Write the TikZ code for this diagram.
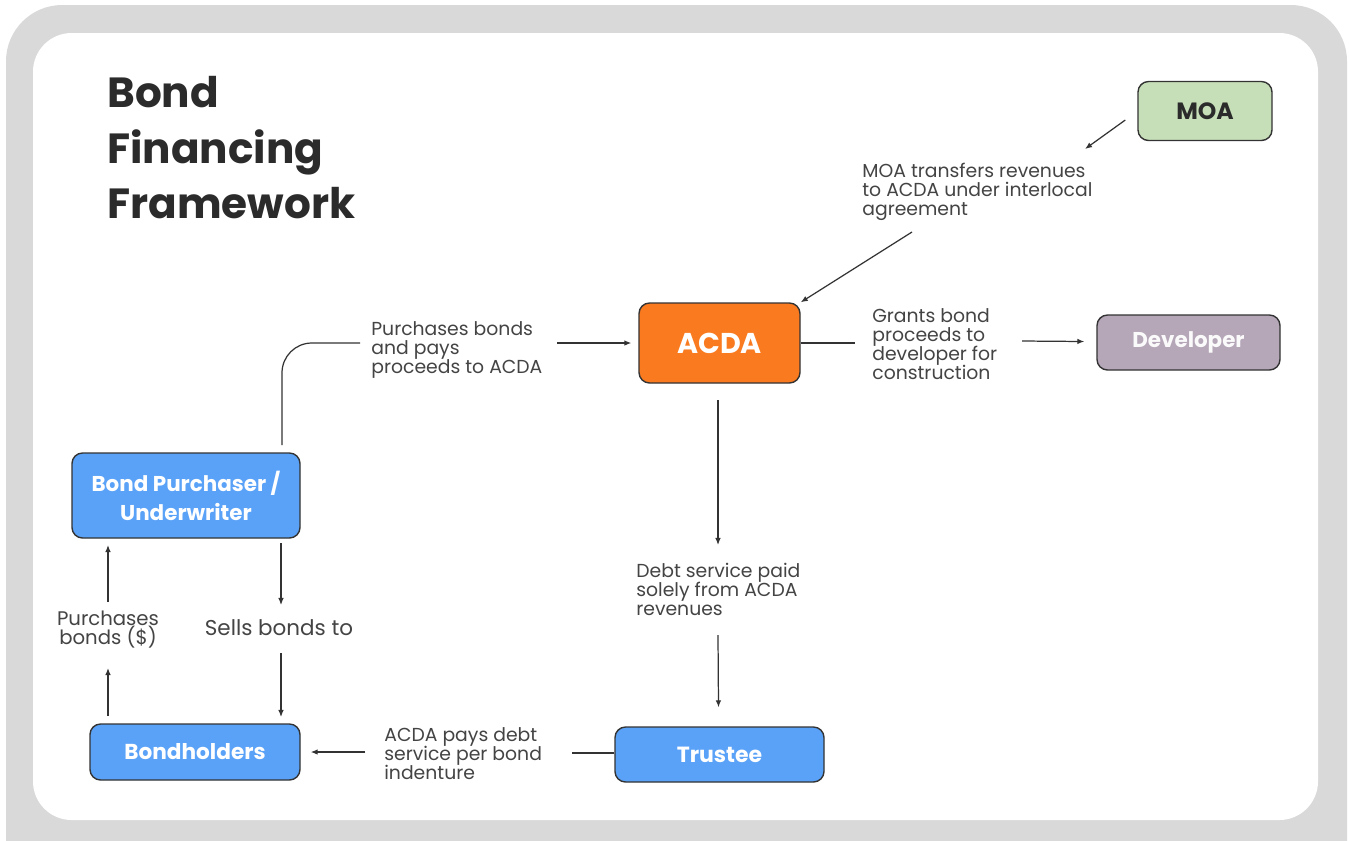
\documentclass[tikz,border=0pt]{standalone}
\usepackage{fontspec}
\setmainfont{Poppins}
\usetikzlibrary{arrows.meta}
\setlength{\lineskiplimit}{-5pt}
\definecolor{framegray}{HTML}{D9D9D9}
\definecolor{linegray}{HTML}{333333}
\definecolor{textgray}{HTML}{444444}
\definecolor{titlegray}{HTML}{2B2B2B}
\definecolor{moagreen}{HTML}{C6DFB8}
\definecolor{acdaorange}{HTML}{F97A1F}
\definecolor{devmauve}{HTML}{B5A7B8}
\definecolor{boxblue}{HTML}{5AA2F7}
\begin{document}
\begin{tikzpicture}[x=0.02cm, y=-0.02cm,
  box/.style={draw=linegray, line width=0.8pt, rounded corners=6pt, align=center, text=white},
  sz/.style 2 args={minimum width=#1*0.02cm, minimum height=#2*0.02cm},
  lbl/.style={font=\fontsize{10.7}{10.8}\selectfont, text=textgray, align=left, inner sep=0pt},
  link/.style={draw=linegray, line width=0.7pt},
  arr/.style={link, -{Latex[length=4pt,width=3.2pt]}}]
\useasboundingbox (0,0) rectangle (1349,840);
\clip (0,0) rectangle (1349,840);

% frame
\fill[framegray, rounded corners=32pt] (6,5) rectangle (1347,900);
\fill[white, rounded corners=22pt] (33,33) rectangle (1318,820);

\node[anchor=north west, align=left, inner sep=0pt, text=titlegray,
  font=\fontsize{24}{31.7}\selectfont\bfseries] (title) at (107,76) {Bond\\Financing\\Framework};

% boxes
\node[box, sz={134}{59}, fill=moagreen, text=titlegray, font=\fontsize{13.4}{15}\selectfont\bfseries] (moa) at (1205,111) {MOA};
\node[box, sz={161}{80}, fill=acdaorange, font=\fontsize{16.3}{19}\selectfont\bfseries] (acda) at (719.5,343) {ACDA};
\node[box, sz={183}{55}, fill=devmauve, text=white!94!devmauve, font=\fontsize{12.2}{15}\selectfont\bfseries] (dev) at (1188.5,342.5) {Developer};
\node[box, sz={228}{85}, fill=boxblue, font=\fontsize{12.2}{16.6}\selectfont\bfseries] (bp) at (186,495.5) {Bond Purchaser /\\Underwriter};
\node[box, sz={210}{56}, fill=boxblue, font=\fontsize{12.3}{14}\selectfont\bfseries] (bh) at (195,752) {Bondholders};
\node[box, sz={209}{55}, fill=boxblue, font=\fontsize{12.5}{15}\selectfont\bfseries] (tr) at (719.5,754.5) {Trustee};

% labels
\node[lbl, anchor=west] (lmoa) at (862,192) {MOA transfers revenues\\to ACDA under interlocal\\agreement};
\node[lbl, anchor=west] (lbuy) at (371,350) {Purchases bonds\\and pays\\proceeds to ACDA};
\node[lbl, anchor=west] (lgrant) at (872,344) {Grants bond\\proceeds to\\developer for\\construction};
\node[lbl, anchor=west] (ldebt) at (636,589) {Debt service paid\\solely from ACDA\\revenues};
\node[lbl, anchor=west] (lpay) at (384,754) {ACDA pays debt\\service per bond\\indenture};
\node[lbl, font=\fontsize{12.2}{14}\selectfont] (lsell) at (279,628) {Sells bonds to};
\node[lbl, align=center, font=\fontsize{11.2}{10.8}\selectfont] (lpur) at (108,630) {Purchases\\bonds (\$)};

% connector ends
\coordinate (moain) at (1085,149);
\coordinate (moaout) at (912,232);
\coordinate (bpup) at (282,445);
\coordinate (buyin) at (360,343);
\coordinate (buyout) at (557,343);
\coordinate (grantin) at (855,343);
\coordinate (grantout) at (1022,341);
\coordinate (debttop) at (718,400);
\coordinate (debtin) at (718,545);
\coordinate (debtout) at (718,635);
\coordinate (payin) at (572,753);
\coordinate (payout) at (365,752);
\coordinate (selltop) at (281,543);
\coordinate (sellin) at (281,605);
\coordinate (sellout) at (281,653);
\coordinate (sellend) at (281,717);
\coordinate (purbot) at (108,716);
\coordinate (purin) at (108,668);
\coordinate (purout) at (108,602);
\coordinate (purend) at (108,545);

% MOA to ACDA
\draw[arr] ([shift={(-12,9)}]moa.west) -- (moain);
\draw[arr] (moaout) -- (acda.north east);
% purchaser to ACDA
\draw[link, rounded corners=17pt] (bpup) |- (buyin);
\draw[arr] (buyout) -- ([shift={(-7,0)}]acda.west);
% ACDA to developer
\draw[link] (acda.east) -- (grantin);
\draw[arr] (grantout) -- ([shift={(-12,-1)}]dev.west);
% ACDA to trustee
\draw[arr] (debttop) -- (debtin);
\draw[arr] (debtout) -- ([shift={(-1,-19)}]tr.north);
% trustee to bondholders
\draw[link] (tr.west |- payin) -- (payin);
\draw[arr] (payout) -- ([shift={(10,0)}]bh.east);
% purchaser and bondholders
\draw[arr] (selltop) -- (sellin);
\draw[arr] (sellout) -- (sellend);
\draw[arr] (purbot) -- (purin);
\draw[arr] (purout) -- (purend);
\end{tikzpicture}
\end{document}
